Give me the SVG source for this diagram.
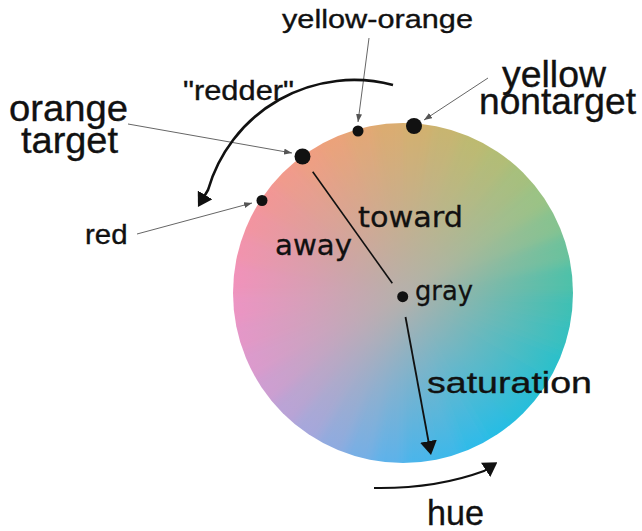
<svg xmlns="http://www.w3.org/2000/svg" xmlns:xlink="http://www.w3.org/1999/xlink" width="642" height="531" viewBox="0 0 642 531">
<style>
.t{font-family:"Liberation Sans",Arial,sans-serif;fill:#111;stroke:#111;stroke-width:0.35}
.v{font-family:"DejaVu Sans",Verdana,sans-serif;fill:#111;stroke:#111;stroke-width:0.3}
.dot{fill:#111}
.lead{stroke:#666;stroke-width:1;fill:none;marker-end:url(#sa)}
.arr{stroke:#111;fill:none;marker-end:url(#ah)}
</style>
<defs>
<marker id="ah" viewBox="0 0 14 17" markerWidth="14" markerHeight="17" refX="10" refY="8.5" orient="auto" markerUnits="userSpaceOnUse"><path d="M0,0 L14,8.5 L0,17z" fill="#111"/></marker>
<marker id="sa" viewBox="0 0 8 6" markerWidth="8" markerHeight="6" refX="8" refY="3" orient="auto" markerUnits="userSpaceOnUse"><path d="M0,0 L8,3 L0,6z" fill="#555"/></marker>
<path id="w" d="M403,293 L613,293 A210,210 0 0 1 609.5,331.3 Z"/>
<clipPath id="cc"><circle cx="403" cy="293" r="170"/></clipPath>
<filter id="bl" x="-0.1" y="-0.1" width="1.2" height="1.2"><feGaussianBlur stdDeviation="6"/></filter>
<radialGradient id="gr" cx="403" cy="293" r="170" gradientUnits="userSpaceOnUse">
<stop offset="0" stop-color="#b6b0aa" stop-opacity="1"/>
<stop offset="0.55" stop-color="#b6b0aa" stop-opacity="0.42"/>
<stop offset="1" stop-color="#b6b0aa" stop-opacity="0"/>
</radialGradient>
</defs>
<rect width="642" height="531" fill="#fff"/>
<g id="wheel" clip-path="url(#cc)">
<g filter="url(#bl)">
<use href="#w" fill="#3cc0b5" transform="rotate(0 403 293)"/>
<use href="#w" fill="#34c0c0" transform="rotate(10 403 293)"/>
<use href="#w" fill="#2cc0cb" transform="rotate(20 403 293)"/>
<use href="#w" fill="#28bfd4" transform="rotate(30 403 293)"/>
<use href="#w" fill="#28bedc" transform="rotate(40 403 293)"/>
<use href="#w" fill="#28bde4" transform="rotate(50 403 293)"/>
<use href="#w" fill="#2fbbe9" transform="rotate(60 403 293)"/>
<use href="#w" fill="#3cb8ea" transform="rotate(70 403 293)"/>
<use href="#w" fill="#49b5eb" transform="rotate(80 403 293)"/>
<use href="#w" fill="#5db2ea" transform="rotate(90 403 293)"/>
<use href="#w" fill="#76afe5" transform="rotate(100 403 293)"/>
<use href="#w" fill="#8fabe0" transform="rotate(110 403 293)"/>
<use href="#w" fill="#a6a7dc" transform="rotate(120 403 293)"/>
<use href="#w" fill="#baa3d7" transform="rotate(130 403 293)"/>
<use href="#w" fill="#ce9ed2" transform="rotate(140 403 293)"/>
<use href="#w" fill="#dc9acd" transform="rotate(150 403 293)"/>
<use href="#w" fill="#e497c8" transform="rotate(160 403 293)"/>
<use href="#w" fill="#ec94c3" transform="rotate(170 403 293)"/>
<use href="#w" fill="#f192ba" transform="rotate(180 403 293)"/>
<use href="#w" fill="#f293ad" transform="rotate(190 403 293)"/>
<use href="#w" fill="#f394a0" transform="rotate(200 403 293)"/>
<use href="#w" fill="#f39695" transform="rotate(210 403 293)"/>
<use href="#w" fill="#f29a8b" transform="rotate(220 403 293)"/>
<use href="#w" fill="#f19e81" transform="rotate(230 403 293)"/>
<use href="#w" fill="#eca27a" transform="rotate(240 403 293)"/>
<use href="#w" fill="#e4a775" transform="rotate(250 403 293)"/>
<use href="#w" fill="#dcac70" transform="rotate(260 403 293)"/>
<use href="#w" fill="#d3b06e" transform="rotate(270 403 293)"/>
<use href="#w" fill="#c8b56f" transform="rotate(280 403 293)"/>
<use href="#w" fill="#bdba70" transform="rotate(290 403 293)"/>
<use href="#w" fill="#b2bd74" transform="rotate(300 403 293)"/>
<use href="#w" fill="#a6c07c" transform="rotate(310 403 293)"/>
<use href="#w" fill="#9ac384" transform="rotate(320 403 293)"/>
<use href="#w" fill="#86c38f" transform="rotate(330 403 293)"/>
<use href="#w" fill="#6ac29c" transform="rotate(340 403 293)"/>
<use href="#w" fill="#4ec1a9" transform="rotate(350 403 293)"/>
</g>
<circle cx="403" cy="293" r="170" fill="url(#gr)"/>
</g>
<g id="connectors">
<path class="lead" d="M128,124 L292,153"/>
<path class="lead" d="M137,234 L252,203"/>
<path class="lead" d="M369,38 L358,122"/>
<path class="lead" d="M488,78 L424,120"/>
<path class="arr" stroke-width="2.6" d="M393,85 A152,152 0 0 0 208,190 L200,203.5"/>
<path class="arr" stroke-width="2" d="M374,488 Q435,489 484,471 L494,464.5"/>
<path class="arr" stroke-width="1.8" d="M405.5,317 L430.3,451"/>
<path stroke="#111" stroke-width="1.6" fill="none" d="M312.7,171.7 L392.3,283.3"/>
</g>
<g id="orange-target">
<circle class="dot" cx="302.5" cy="156.5" r="8"/>
<text class="t" font-size="37" x="9" y="121" textLength="119" lengthAdjust="spacingAndGlyphs">orange</text>
<text class="t" font-size="37" x="21" y="153" textLength="97" lengthAdjust="spacingAndGlyphs">target</text>
</g>
<g id="yellow-orange">
<circle class="dot" cx="358" cy="131" r="5.5"/>
<text class="t" font-size="26" x="282" y="28" textLength="191" lengthAdjust="spacingAndGlyphs">yellow-orange</text>
</g>
<g id="yellow-nontarget">
<circle class="dot" cx="414" cy="126" r="8"/>
<text class="t" font-size="36" x="502" y="86.5" textLength="104" lengthAdjust="spacingAndGlyphs">yellow</text>
<text class="t" font-size="36" x="479" y="114" textLength="157" lengthAdjust="spacingAndGlyphs">nontarget</text>
</g>
<g id="red">
<circle class="dot" cx="262" cy="200.5" r="5.5"/>
<text class="t" font-size="28" x="85" y="244" textLength="42.5" lengthAdjust="spacingAndGlyphs">red</text>
</g>
<g id="gray">
<circle class="dot" cx="402.7" cy="296.7" r="5.5"/>
<text class="v" font-size="26" x="415" y="300" textLength="58" lengthAdjust="spacingAndGlyphs">gray</text>
</g>
<g id="labels">
<text class="t" font-size="28" x="183" y="99.5" textLength="111" lengthAdjust="spacingAndGlyphs">"redder"</text>
<text class="v" font-size="28" x="358" y="226.5" textLength="105" lengthAdjust="spacingAndGlyphs">toward</text>
<text class="v" font-size="28" x="275" y="255" textLength="77" lengthAdjust="spacingAndGlyphs">away</text>
<text class="t" font-size="30" x="427" y="393" textLength="165" lengthAdjust="spacingAndGlyphs">saturation</text>
<text class="t" font-size="35" x="427" y="525" textLength="57" lengthAdjust="spacingAndGlyphs">hue</text>
</g>
</svg>
